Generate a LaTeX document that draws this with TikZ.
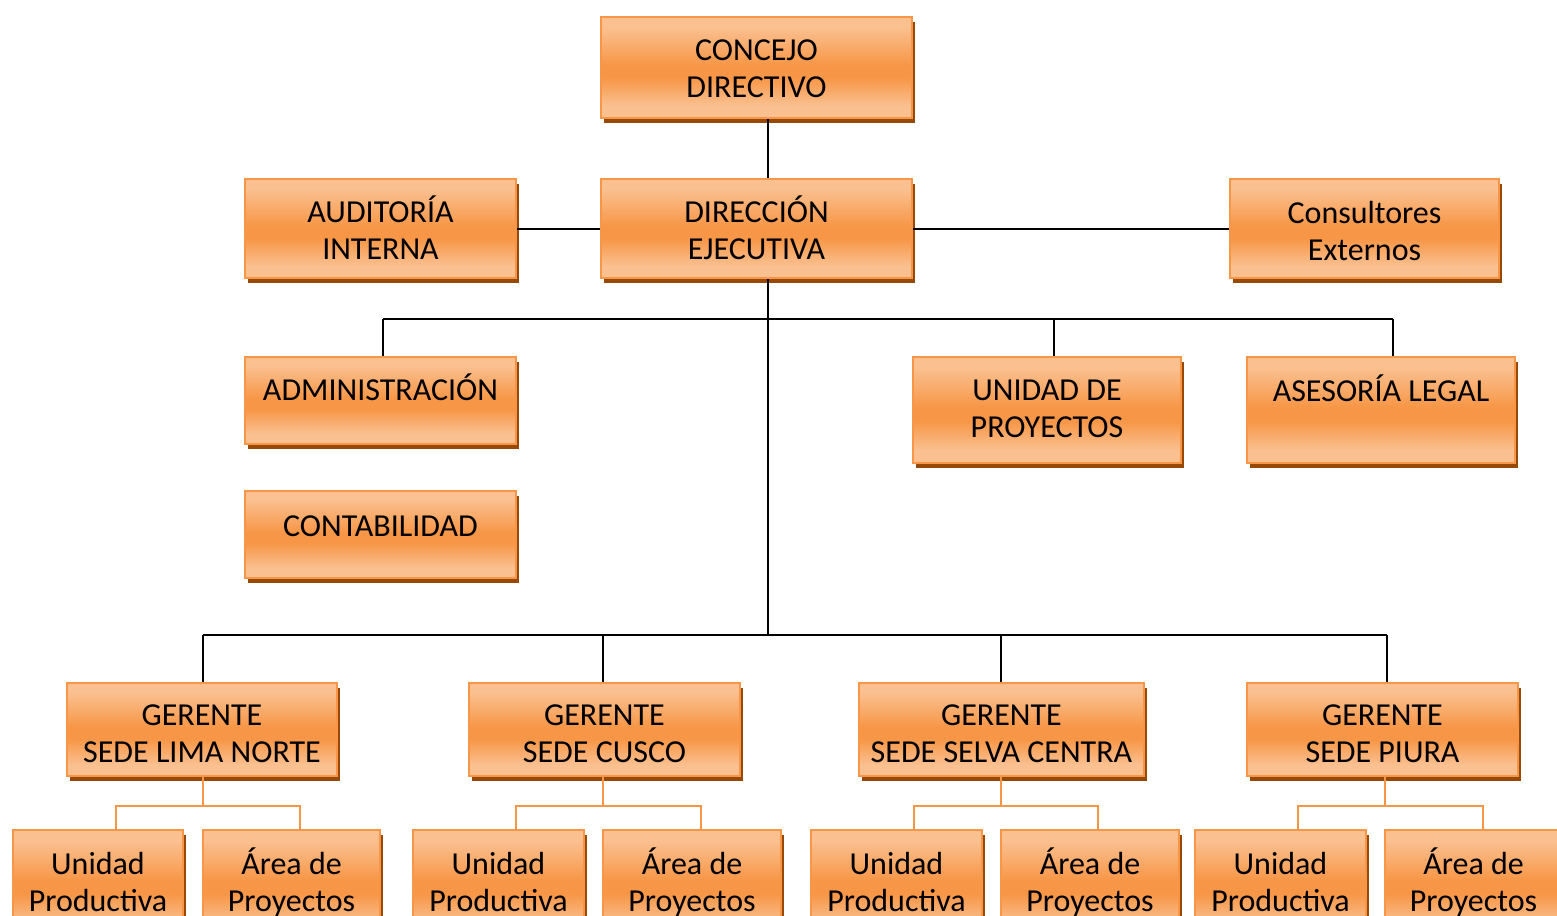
\documentclass[tikz,border=0pt]{standalone}
\usepackage{fontspec}
\setmainfont{Carlito}
\usetikzlibrary{shadows}
\definecolor{ormid}{HTML}{F79646}
\definecolor{orlight}{HTML}{FAC090}
\definecolor{shadowc}{HTML}{984807}
\pgfdeclareverticalshading{orshade}{100bp}{color(0bp)=(orlight); color(25bp)=(orlight); color(31bp)=(orlight); color(45bp)=(ormid); color(51bp)=(ormid); color(70bp)=(orlight); color(75bp)=(orlight); color(100bp)=(orlight)}
\tikzset{
  box/.style={rectangle, draw=ormid, line width=1pt, shading=orshade, inner sep=0pt,
    drop shadow={shadow xshift=1.5pt, shadow yshift=-2.5pt, fill=shadowc, opacity=1}},
  lbl/.style={align=center, inner sep=0pt, font=\fontsize{16}{18.5}\selectfont, text=black,
    execute at begin node=\strut, execute at end node=\strut},
  conn/.style={draw=black, line width=1pt},
  oconn/.style={draw=ormid, line width=1.2pt}
}
% name, x1, y1, x2, y2, text centre y, text
\newcommand\orgbox[7]{%
  \node[box, minimum width={(#4-#2-2)*0.5pt}, minimum height={(#5-#3-2)*0.5pt}] (#1) at ({(#2+#4)/2},{(#3+#5)/2}) {};
  \node[lbl] (#1t) at ({(#2+#4)/2},{#6+3.5}) {#7};}
\begin{document}
\begin{tikzpicture}[x=0.5pt, y=-0.5pt]
\useasboundingbox (0,0) rectangle (1557,915);
\fill[white] (0,0) rectangle (1557,915);
\clip (0,0) rectangle (1557,915);

\orgbox{con}{600}{16}{913}{119}{71}{CONCEJO\\DIRECTIVO}
\orgbox{aud}{244}{178}{517}{279}{230}{AUDITORÍA\\INTERNA}
\orgbox{dir}{600}{178}{913}{279}{230}{DIRECCIÓN\\EJECUTIVA}
\orgbox{cons}{1229}{178}{1500}{279}{233}{Consultores\\Externos}
\orgbox{adm}{244}{356}{517}{445}{389.6}{ADMINISTRACIÓN}
\orgbox{cont}{244}{490}{517}{579}{525.6}{CONTABILIDAD}
\orgbox{uni}{912}{356}{1182}{464}{411}{UNIDAD DE\\PROYECTOS}
\orgbox{ase}{1246}{356}{1516}{464}{390}{ASESORÍA LEGAL}

\orgbox{g1}{66}{682}{338}{777}{736}{GERENTE\\SEDE LIMA NORTE}
\orgbox{g2}{468}{682}{741}{777}{736}{GERENTE\\SEDE CUSCO}
\orgbox{g3}{858}{682}{1145}{777}{736}{GERENTE\\SEDE SELVA CENTRA}
\orgbox{g4}{1246}{682}{1519}{777}{736}{GERENTE\\SEDE PIURA}

\orgbox{u1}{12}{829}{184}{937}{884}{Unidad\\Productiva}
\orgbox{a1}{202}{829}{381}{937}{882}{Área de\\Proyectos}
\orgbox{u2}{412}{829}{585}{937}{884}{Unidad\\Productiva}
\orgbox{a2}{602}{829}{782}{937}{882}{Área de\\Proyectos}
\orgbox{u3}{810}{829}{983}{937}{884}{Unidad\\Productiva}
\orgbox{a3}{1000}{829}{1180}{937}{882}{Área de\\Proyectos}
\orgbox{u4}{1194}{829}{1367}{937}{884}{Unidad\\Productiva}
\orgbox{a4}{1384}{829}{1563}{937}{882}{Área de\\Proyectos}

% black connectors
\coordinate (j1) at (768,319);
\coordinate (j2) at (768,635);
\draw[conn] (con.south -| j1) -- (dir.north -| j1);
\draw[conn] (aud.east) -- (dir.west);
\draw[conn] (dir.east) -- (cons.west);
\draw[conn] (dir.south -| j1) -- (j2);
\coordinate (ka) at (383,319);
\coordinate (ku) at (1054,319);
\coordinate (ks) at (1393,319);
\draw[conn] (ka) -- (ks);
\draw[conn] (ka) -- (ka |- adm.north);
\draw[conn] (ku) -- (ku |- uni.north);
\draw[conn] (ks) -- (ks |- ase.north);
\coordinate (kg1) at (203,635);
\coordinate (kg2) at (603,635);
\coordinate (kg3) at (1001,635);
\coordinate (kg4) at (1387,635);
\draw[conn] (kg1) -- (kg4);
\draw[conn] (kg1) -- (kg1 |- g1.north);
\draw[conn] (kg2) -- (kg2 |- g2.north);
\draw[conn] (kg3) -- (kg3 |- g3.north);
\draw[conn] (kg4) -- (kg4 |- g4.north);

% orange connectors
\coordinate (m1) at (203,806);  \coordinate (m1l) at (116,806);  \coordinate (m1r) at (300,806);
\coordinate (m2) at (603,806);  \coordinate (m2l) at (516,806);  \coordinate (m2r) at (701,806);
\coordinate (m3) at (1001,806); \coordinate (m3l) at (914,806);  \coordinate (m3r) at (1098,806);
\coordinate (m4) at (1385,806); \coordinate (m4l) at (1298,806); \coordinate (m4r) at (1483,806);
\draw[oconn] (g1.south -| m1) -- (m1);
\draw[oconn] (m1l |- u1.north) -- (m1l) -- (m1r) -- (m1r |- a1.north);
\draw[oconn] (g2.south -| m2) -- (m2);
\draw[oconn] (m2l |- u2.north) -- (m2l) -- (m2r) -- (m2r |- a2.north);
\draw[oconn] (g3.south -| m3) -- (m3);
\draw[oconn] (m3l |- u3.north) -- (m3l) -- (m3r) -- (m3r |- a3.north);
\draw[oconn] (g4.south -| m4) -- (m4);
\draw[oconn] (m4l |- u4.north) -- (m4l) -- (m4r) -- (m4r |- a4.north);
\end{tikzpicture}
\end{document}
